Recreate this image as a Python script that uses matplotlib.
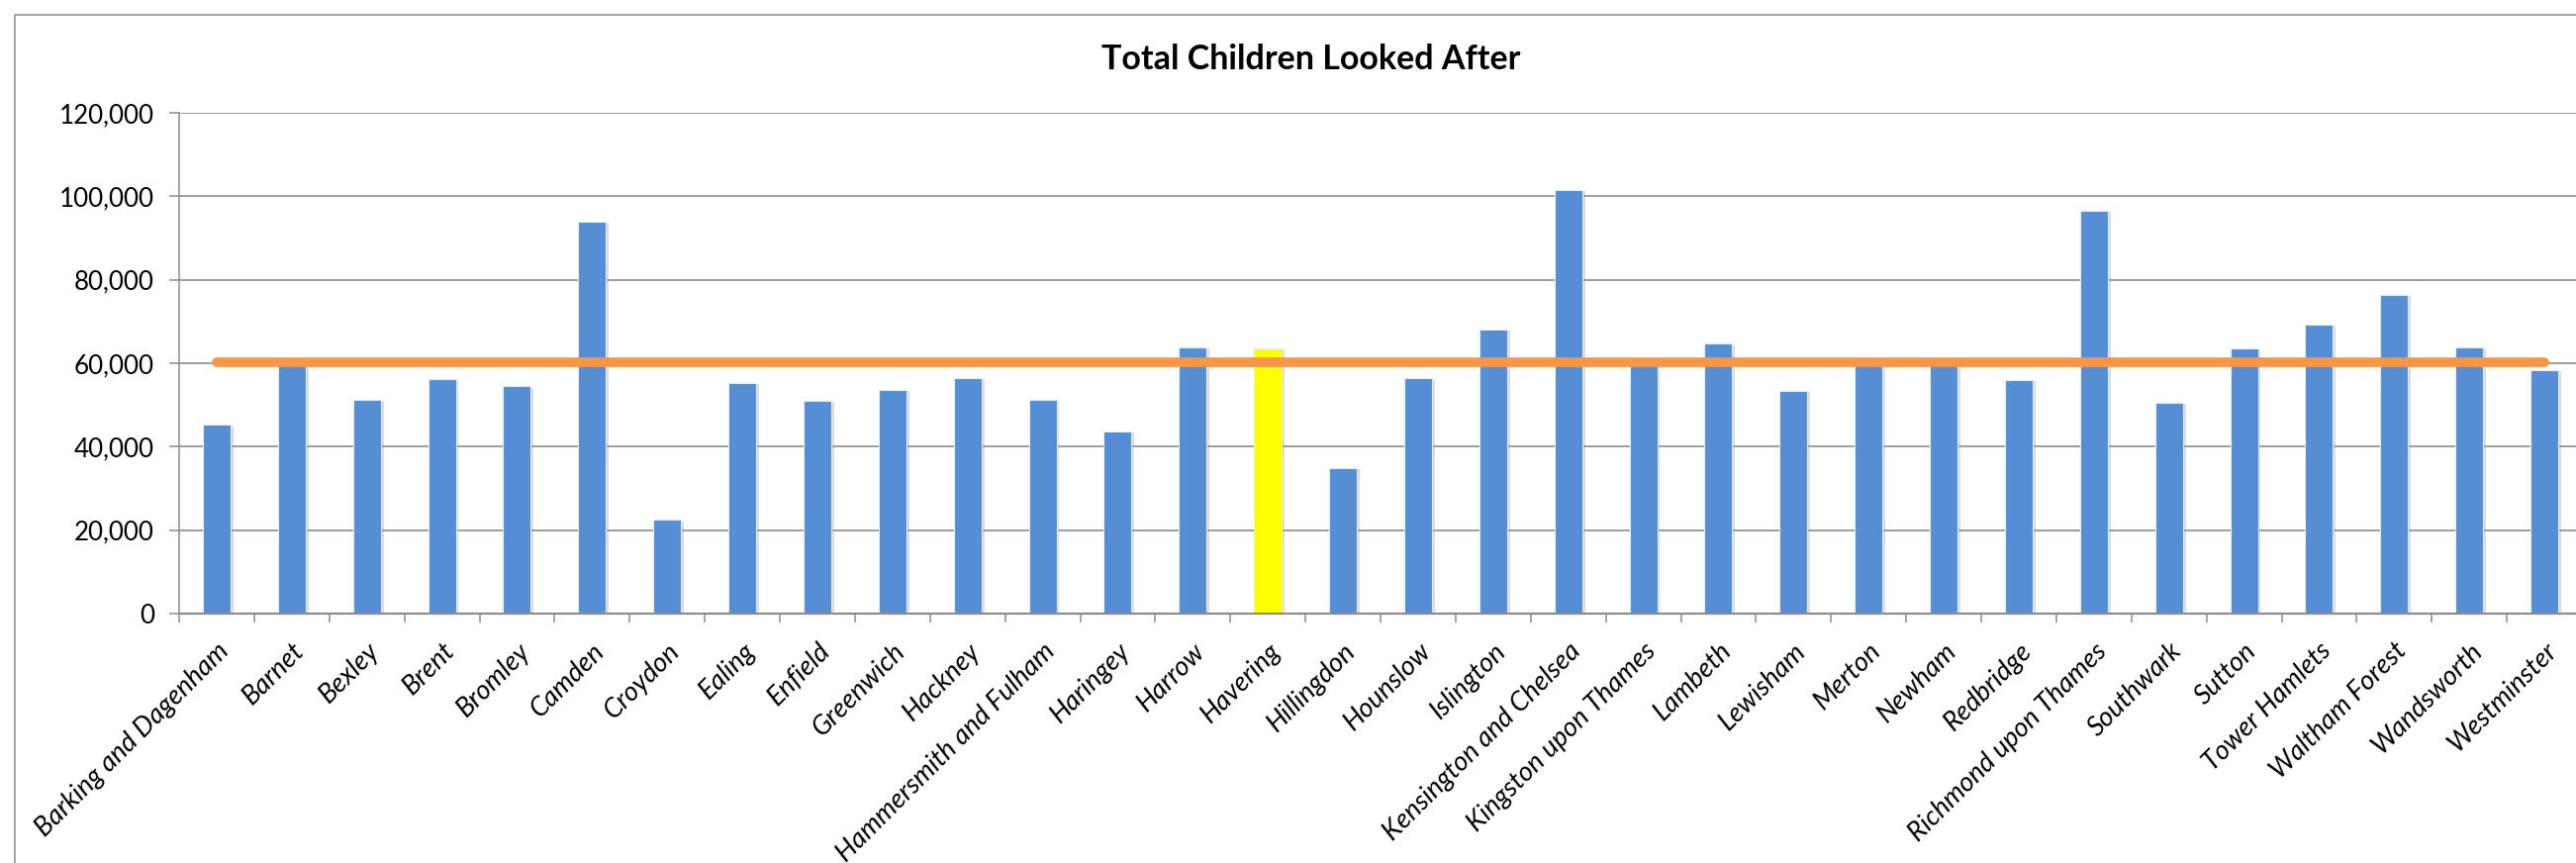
import matplotlib.pyplot as plt
import matplotlib.patheffects as pe
from matplotlib.patches import Rectangle
from matplotlib.ticker import FixedLocator, StrMethodFormatter
import numpy as np

boroughs = ["Barking and Dagenham", "Barnet", "Bexley", "Brent", "Bromley", "Camden",
            "Croydon", "Ealing", "Enfield", "Greenwich", "Hackney", "Hammersmith and Fulham",
            "Haringey", "Harrow", "Havering", "Hillingdon", "Hounslow", "Islington",
            "Kensington and Chelsea", "Kingston upon Thames", "Lambeth", "Lewisham", "Merton",
            "Newham", "Redbridge", "Richmond upon Thames", "Southwark", "Sutton",
            "Tower Hamlets", "Waltham Forest", "Wandsworth", "Westminster"]
children = [45300, 60200, 51150, 56100, 54500, 94000,
            22500, 55300, 51100, 53700, 56500, 51300,
            43700, 63900, 63600, 34900, 56400, 68100,
            101600, 60400, 64700, 53400, 59900,
            60700, 56000, 96600, 50500, 63600,
            69300, 76400, 63900, 58400]
highlight = "Havering"
average = 60300

blue = "#558ed5"
yellow = "#ffff00"
orange = "#f79646"
grey = "#8c8c8c"

W, H = 2603, 872
fig = plt.figure(figsize=(W / 100, H / 100), dpi=100)
ax = fig.add_axes([181 / W, 1 - 620 / H, (2609 - 181) / W, (620 - 114) / H])

# chart border (right and bottom edges fall outside the picture)
fig.patches.append(Rectangle((15 / W, -0.2), 1.2, 1.2 - 15 / H, transform=fig.transFigure,
                             fill=False, edgecolor=grey, linewidth=1.1))

x = np.arange(len(boroughs))
colors = [yellow if b == highlight else blue for b in boroughs]
bars = ax.bar(x, children, width=0.37, color=colors, edgecolor="#e4ecf6", linewidth=0.8, zorder=3)
for b in bars:
    b.set_path_effects([pe.SimplePatchShadow(offset=(2, -1), shadow_rgbFace="#9a9a9a", alpha=0.35),
                        pe.Normal()])

ax.plot(x, [average] * len(x), color=orange, linewidth=7, solid_capstyle="round", zorder=4)

ax.set_xlim(-0.5, len(boroughs) - 0.5)
ax.set_ylim(0, 120000)
ax.set_yticks(np.arange(0, 120001, 20000))
ax.yaxis.set_major_formatter(StrMethodFormatter("{x:,.0f}"))
ax.grid(axis="y", color=grey, linewidth=1.2, zorder=0)
ax.set_axisbelow(True)

ax.set_xticks(x)
ax.set_xticklabels(boroughs, rotation=45, ha="right", va="top", rotation_mode="anchor",
                   fontfamily="Lato", fontstyle="italic", fontsize=19.5)
ax.xaxis.set_minor_locator(FixedLocator(np.arange(-0.5, len(boroughs), 1)))
ax.tick_params(axis="x", which="major", length=0, pad=18)
ax.tick_params(axis="x", which="minor", length=6.3, width=1.1, color=grey, direction="out")
ax.tick_params(axis="y", length=7, width=1.1, color=grey, pad=11, labelsize=18.7)
for lab in ax.get_yticklabels():
    lab.set_fontfamily("Lato")

for s in ["top", "right"]:
    ax.spines[s].set_visible(False)
ax.spines["left"].set_color(grey)
ax.spines["left"].set_linewidth(1.1)
ax.spines["bottom"].set_color(grey)
ax.spines["bottom"].set_linewidth(1.6)
ax.spines["bottom"].set_zorder(5)

fig.text(1325 / W, 1 - 60 / H, "Total Children Looked After", ha="center", va="center",
         fontfamily="Lato", fontweight="bold", fontsize=24.5)

fig.savefig("out.png", dpi=100)
